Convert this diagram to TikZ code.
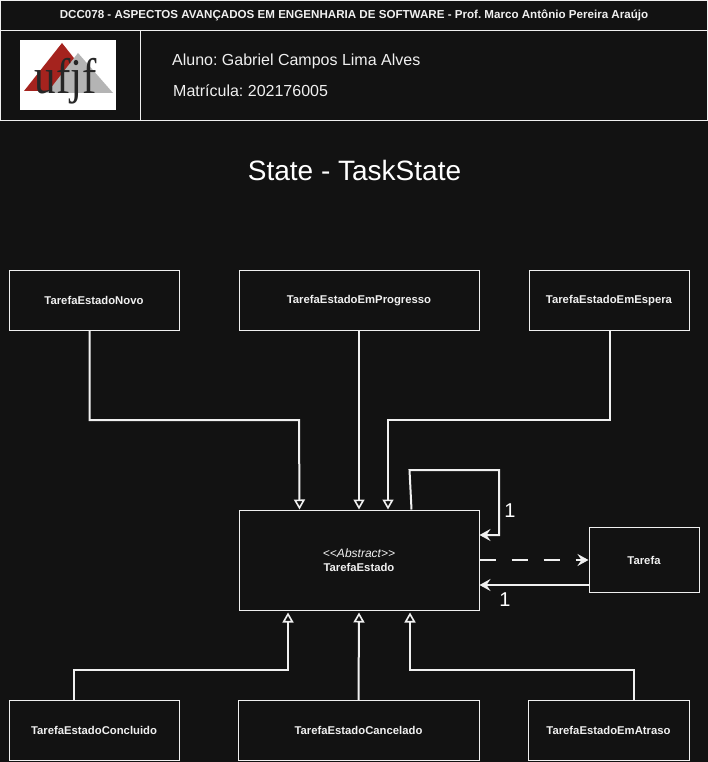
\documentclass[tikz,border=0pt]{standalone}
\usepackage{fontspec}
\setmainfont{Liberation Sans}
\newfontfamily\logofont{Liberation Serif}
\usetikzlibrary{arrows.meta,calc,positioning}
\definecolor{bgc}{HTML}{121212}
\definecolor{linec}{HTML}{F0F0F0}
\definecolor{logored}{HTML}{A5231E}
\definecolor{logogray}{HTML}{B4B4B4}
\frenchspacing
\tikzset{
  box/.style={draw=linec,line width=1pt,fill=bgc,text=linec,font=\fontsize{11.3}{14}\selectfont\bfseries,inner sep=0pt,align=center,anchor=north west},
  inherit/.style={draw=linec,line width=2pt,-{Triangle[open,length=10pt,width=11pt,fill=bgc,line width=1.6pt]}},
  assoc/.style={draw=linec,line width=2pt,-{Stealth[length=11pt,width=12pt,inset=4pt]}},
  txt/.style={text=linec,inner sep=0pt,anchor=west},
}
\begin{document}
\begin{tikzpicture}[x=1pt,y=-1pt]
\useasboundingbox[fill=bgc] (0,0) rectangle (708,762);
% header
\node[box,minimum width=707pt,minimum height=30pt,font=\fontsize{11.6}{14}\selectfont\bfseries] (head) at (0,0) {DCC078 - ASPECTOS AVANÇADOS EM ENGENHARIA DE SOFTWARE - Prof. Marco Antônio Pereira Araújo};
\node[box,minimum width=140pt,minimum height=90pt] (logocell) at (0,30) {};
\node[box,minimum width=567pt,minimum height=90pt] (infocell) at (140,30) {};
\node[fill=white,minimum width=96pt,minimum height=70pt,inner sep=0pt,anchor=north west] (logobg) at (20,40) {};
\fill[logored] (62,43) -- (100,91) -- (24,91) -- cycle;
\fill[logogray] (78,53) -- (113,93) -- (47,93) -- cycle;
\node[inner sep=0pt,text=black!85,font=\logofont\fontsize{50}{50}\selectfont,xscale=0.86,transform shape] (logotext) at (66,81) {ufjf};
\node[txt,font=\fontsize{16}{18}\selectfont] (aluno) at (172,61) {Aluno: Gabriel Campos Lima Alves};
\node[txt,font=\fontsize{16}{18}\selectfont] (matricula) at (173,91) {Matrícula: 202176005};
\node[text=white,inner sep=0pt,font=\fontsize{28}{32}\selectfont] (title) at (354.5,170) {State - TaskState};
% classes
\node[box,minimum width=170pt,minimum height=60pt] (novo) at (8.5,270) {TarefaEstadoNovo};
\node[box,minimum width=240pt,minimum height=60pt] (prog) at (238.5,270) {TarefaEstadoEmProgresso};
\node[box,minimum width=160pt,minimum height=60pt] (esp) at (528.5,270) {TarefaEstadoEmEspera};
\node[box,minimum width=240pt,minimum height=100pt] (est) at (238.5,509.5) {{\fontsize{12}{14}\selectfont\mdseries\itshape <{}<Abstract>{}>}\\TarefaEstado};
\node[box,minimum width=110pt,minimum height=65pt] (tar) at (588.5,527) {Tarefa};
\node[box,minimum width=170pt,minimum height=60pt] (conc) at (8.5,700) {TarefaEstadoConcluido};
\node[box,minimum width=241pt,minimum height=60pt] (canc) at (237.5,700) {TarefaEstadoCancelado};
\node[box,minimum width=161pt,minimum height=60pt] (atr) at (527.5,700) {TarefaEstadoEmAtraso};
% connectors
\draw[inherit] ($(novo.south)+(-4.5,0)$) |- (299,420) -- ($(est.north)+(-59.5,0)$);
\draw[inherit] (prog.south) -- (est.north);
\draw[inherit] ($(esp.south)+(0.5,0)$) |- (388,420) -- ($(est.north)+(29,0)$);
\draw[inherit] ($(conc.north)+(-20,0)$) |- (288,670) -- ($(est.south)+(-71,2)$);
\draw[inherit] (canc.north) -- ($(est.south)+(0,2)$);
\draw[inherit] ($(atr.north)+(25,0)$) |- (410,670) -- ($(est.south)+(51,2)$);
\draw[assoc] ($(est.north)+(52.5,0)$) -- (409.5,470) -- (499,470) |- ($(est.east)+(0,-25)$);
\draw[assoc,dash pattern=on 16pt off 16pt] (est.east) -- (tar.west |- est.east);
\draw[assoc] ($(tar.west)+(0,25)$) -- ($(est.east)+(0,25)$);
\node[text=white,inner sep=0pt,font=\fontsize{20}{22}\selectfont] (m1) at (510,511) {1};
\node[text=white,inner sep=0pt,font=\fontsize{20}{22}\selectfont] (m2) at (505,600) {1};
\end{tikzpicture}
\end{document}
